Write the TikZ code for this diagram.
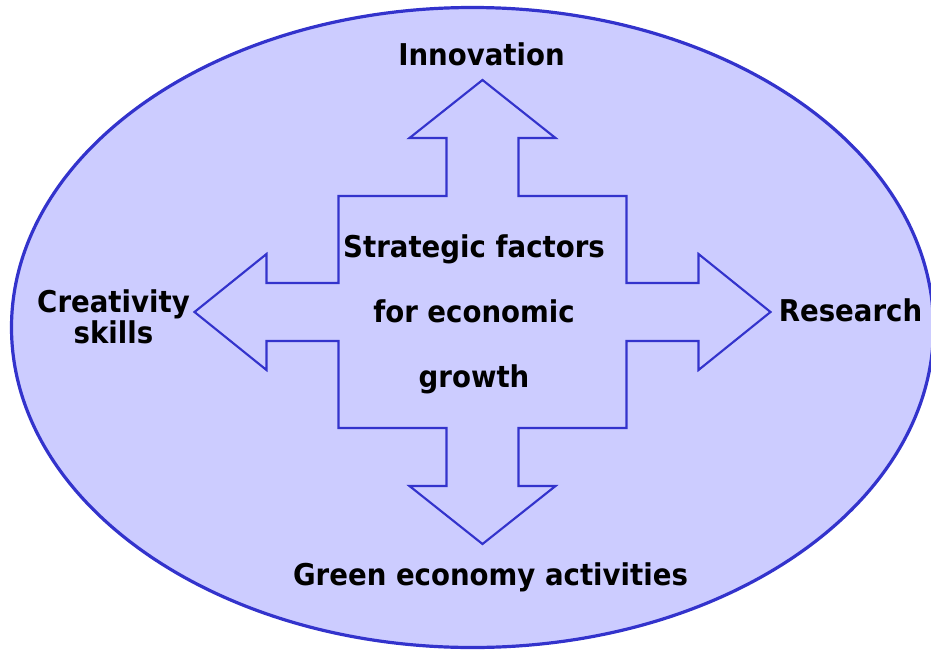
\documentclass[tikz,border=0pt]{standalone}
\usepackage{fontspec}
\setmainfont{DejaVu Sans}[FakeStretch=0.92]
\usepackage{tikz}
\usetikzlibrary{calc}
\definecolor{lavender}{RGB}{204,204,255}
\definecolor{edgeblue}{RGB}{51,51,204}
\newcommand{\labelsize}{\fontsize{22.5}{23.25}\selectfont}
\tikzset{
	factor/.style={font=\bfseries\labelsize, inner sep=0pt, anchor=base, align=center},
	crossarrow/.style={fill=lavender, draw=edgeblue, line width=1.6pt}
}

\begin{document}
\begin{tikzpicture}[x=0.75pt,y=-0.75pt]
	\useasboundingbox (0,0) rectangle (931,650);
	\coordinate (c) at (482.5,312);

	\draw[fill=lavender, draw=edgeblue, line width=2.4pt] (472.5,327.5) ellipse (461 and 320);

	\draw[crossarrow] ($(c)+(0,-232)$) -- ($(c)+(73,-174)$) -- ($(c)+(36,-174)$) -- ($(c)+(36,-116)$)
		-- ($(c)+(144,-116)$) -- ($(c)+(144,-29)$) -- ($(c)+(216,-29)$) -- ($(c)+(216,-58)$)
		-- ($(c)+(288,0)$) -- ($(c)+(216,58)$) -- ($(c)+(216,29)$) -- ($(c)+(144,29)$)
		-- ($(c)+(144,116)$) -- ($(c)+(36,116)$) -- ($(c)+(36,174)$) -- ($(c)+(73,174)$)
		-- ($(c)+(0,232)$) -- ($(c)+(-73,174)$) -- ($(c)+(-36,174)$) -- ($(c)+(-36,116)$)
		-- ($(c)+(-144,116)$) -- ($(c)+(-144,29)$) -- ($(c)+(-216,29)$) -- ($(c)+(-216,58)$)
		-- ($(c)+(-288,0)$) -- ($(c)+(-216,-58)$) -- ($(c)+(-216,-29)$) -- ($(c)+(-144,-29)$)
		-- ($(c)+(-144,-116)$) -- ($(c)+(-36,-116)$) -- ($(c)+(-36,-174)$) -- ($(c)+(-73,-174)$)
		-- cycle;

	\node[factor] (innovation) at (481.5,65) {Innovation};
	\node[factor] (research) at (850.5,321.3) {Research};
	\node[factor] (green) at (490.5,585) {Green economy activities};
	\node[factor] (creativity) at (113.5,343) {Creativity\\skills};

	\node[factor] (strategic) at (474,257) {Strategic factors};
	\node[factor] (economic) at (474,322) {for economic};
	\node[factor] (growth) at (474,387.6) {growth};
\end{tikzpicture}
\end{document}
